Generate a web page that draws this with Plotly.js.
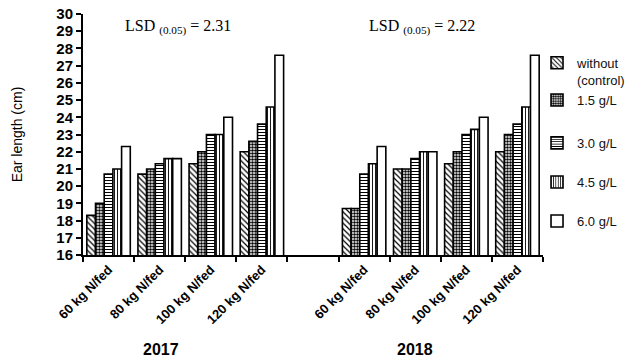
<!DOCTYPE html>
<html>
<head>
<meta charset="utf-8">
<script src="https://cdn.plot.ly/plotly-3.0.1.min.js"></script>
<style>
  html, body { margin: 0; padding: 0; background: #fff; }
  #chart { width: 643px; height: 363px; }
</style>
</head>
<body>
<div id="chart"></div>
<script>
// Nitrogen rates (per season) and the two growing seasons
const categories = ['60 kg N/fed', '80 kg N/fed', '100 kg N/fed', '120 kg N/fed'];
const years = ['2017', '2018'];
const lsdValues = ['2.31', '2.22'];

// Ear length (cm): four N rates for 2017 followed by four for 2018
const seriesNames = ['without<br>(control)', '1.5 g/L', '3.0 g/L', '4.5 g/L', '6.0 g/L'];
const withoutControl = [18.3, 20.7, 21.3, 22.0,   18.7, 21.0, 21.3, 22.0];
const dose15 = [19.0, 21.0, 22.0, 22.6,   18.7, 21.0, 22.0, 23.0];
const dose30 = [20.7, 21.3, 23.0, 23.6,   20.7, 21.6, 23.0, 23.6];
const dose45 = [21.0, 21.6, 23.0, 24.6,   21.3, 22.0, 23.3, 24.6];
const dose60 = [22.3, 21.6, 24.0, 27.6,   22.3, 22.0, 24.0, 27.6];

// y-axis ticks
const yTicks = [16, 17, 18, 19, 20, 21, 22, 23, 24, 25, 26, 27, 28, 29, 30];

// Each season gets its own block of slots, with one empty slot between them
const slotsPerYear = categories.length + 1;
const xPos = [];
const xText = [];
years.forEach((yr, yi) => {
  categories.forEach((c, ci) => {
    xPos.push(yi * slotsPerYear + ci);
    xText.push(c);
  });
});
const nSlots = years.length * slotsPerYear - 1;
const boundaries = [];
for (let i = 0; i <= nSlots; i++) boundaries.push(i - 0.5);

const patterns = [
  { shape: '\\', size: 4, solidity: 0.3 },
  { shape: '.', size: 3, solidity: 0.55 },
  { shape: '-', size: 3, solidity: 0.35 },
  { shape: '|', size: 3, solidity: 0.3 },
  { shape: '', size: 4, solidity: 0.3 }
];
const allValues = [withoutControl, dose15, dose30, dose45, dose60];

// legend placement, one small legend per series
const legendY = [0.762, 0.643, 0.465, 0.303, 0.141];

const traces = allValues.map((vals, i) => ({
  type: 'bar',
  name: seriesNames[i],
  x: xPos,
  y: vals,
  legend: i === 0 ? 'legend' : 'legend' + (i + 1),
  marker: {
    color: '#ffffff',
    line: { color: '#000000', width: 1.6 },
    pattern: {
      shape: patterns[i].shape,
      fgcolor: '#000000',
      bgcolor: '#ffffff',
      size: patterns[i].size,
      solidity: patterns[i].solidity,
      fillmode: 'replace'
    }
  },
  hoverinfo: 'x+y+name'
}));

const legendFont = { family: 'Liberation Sans, Arial, sans-serif', size: 13, color: '#111' };
const layout = {
  width: 643,
  height: 363,
  margin: { l: 83, r: 90, t: 14, b: 108 },
  paper_bgcolor: '#ffffff',
  plot_bgcolor: '#ffffff',
  barmode: 'group',
  bargap: 0.15,
  bargroupgap: 0,
  showlegend: true,
  xaxis: {
    range: [-0.5, nSlots - 0.5],
    tickmode: 'array',
    tickvals: xPos,
    ticktext: xText,
    tickangle: -45,
    ticks: '',
    showgrid: false,
    zeroline: false,
    showline: true,
    linecolor: '#000',
    linewidth: 2,
    tickfont: { family: 'Liberation Sans, Arial, sans-serif', size: 13, color: '#000', weight: 700 },
    minor: {
      tickmode: 'array',
      tickvals: boundaries,
      ticks: 'outside',
      ticklen: 5,
      tickwidth: 2,
      tickcolor: '#000',
      showgrid: false
    }
  },
  yaxis: {
    range: [16, 30],
    tickmode: 'array',
    tickvals: yTicks,
    ticks: 'outside',
    ticklen: 5,
    tickwidth: 2,
    tickcolor: '#000',
    showgrid: false,
    zeroline: false,
    showline: true,
    linecolor: '#000',
    linewidth: 2,
    tickfont: { family: 'Liberation Sans, Arial, sans-serif', size: 15, color: '#000', weight: 700 },
    title: {
      text: 'Ear length (cm)',
      font: { family: 'Liberation Sans, Arial, sans-serif', size: 14, color: '#000' },
      standoff: 30
    }
  },
  annotations: [],
  font: { family: 'Liberation Sans, Arial, sans-serif', color: '#000' }
};

// legends
legendY.forEach((ly, i) => {
  const key = i === 0 ? 'legend' : 'legend' + (i + 1);
  layout[key] = {
    x: 0.987,
    xanchor: 'left',
    y: ly,
    yanchor: 'middle',
    valign: 'top',
    bgcolor: 'rgba(0,0,0,0)',
    borderwidth: 0,
    font: legendFont,
    itemwidth: 30
  };
});

// season labels and LSD values
const yearX = [0.170, 0.721];
const lsdX = [0.206, 0.738];
years.forEach((yr, yi) => {
  layout.annotations.push({
    xref: 'paper', yref: 'paper',
    x: yearX[yi], y: -0.394,
    xanchor: 'center', yanchor: 'middle',
    text: yr,
    showarrow: false,
    font: { family: 'Liberation Sans, Arial, sans-serif', size: 16, color: '#000', weight: 700 }
  });
  layout.annotations.push({
    xref: 'paper', yref: 'paper',
    x: lsdX[yi], y: 0.946,
    xanchor: 'center', yanchor: 'middle',
    text: 'LSD <sub>(0.05)</sub> = ' + lsdValues[yi],
    showarrow: false,
    font: { family: 'Liberation Serif, Times New Roman, serif', size: 16, color: '#000' }
  });
});

Plotly.newPlot('chart', traces, layout, { staticPlot: true, displayModeBar: false });
</script>
</body>
</html>
